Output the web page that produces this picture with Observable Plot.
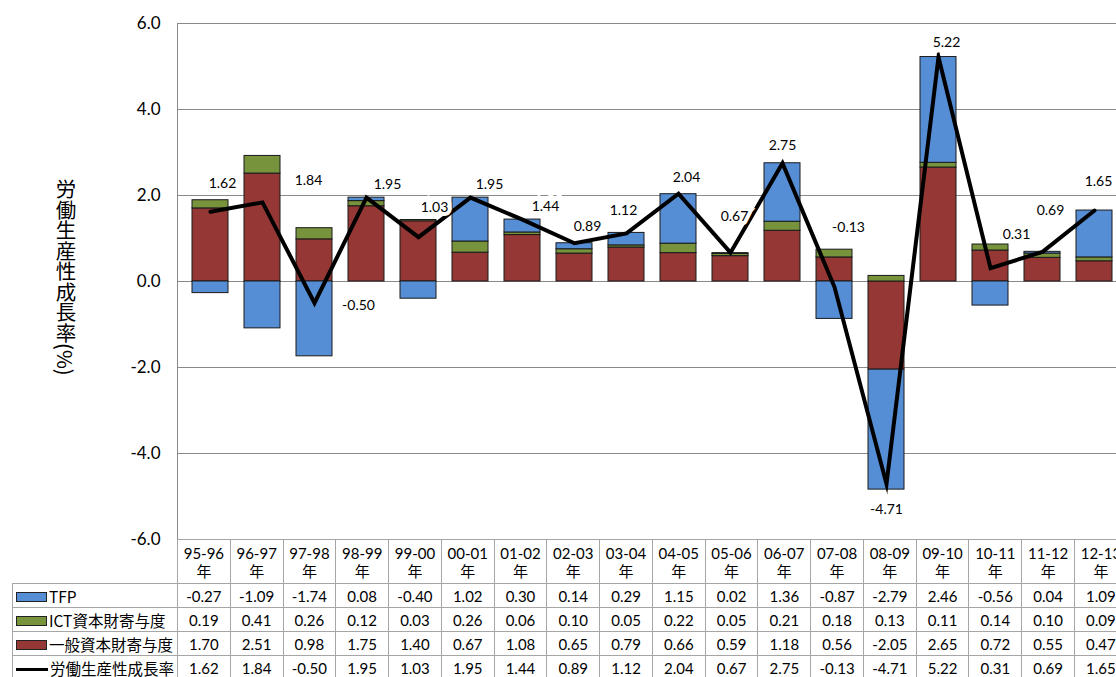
<!DOCTYPE html>
<html><head><meta charset="utf-8">
<script src="https://cdn.jsdelivr.net/npm/d3@7"></script>
<script src="https://cdn.jsdelivr.net/npm/@observablehq/plot@0.6"></script>
<style>
html,body{margin:0;padding:0;background:#fff;overflow:hidden;}
#wrap{position:relative;width:1116px;height:677px;overflow:hidden;font-family:Lato,"Noto Sans CJK JP",sans-serif;}
#chart{position:absolute;left:0;top:0;width:1127px;}
#chart svg{max-width:none !important;}
#ytitle{position:absolute;left:54px;top:179px;writing-mode:vertical-rl;font-family:"Noto Sans CJK JP",sans-serif;font-size:20.5px;line-height:24px;color:#000;}
#vline{position:absolute;left:177px;top:23px;height:560px;width:0;border-left:1px solid #8a8a8a;}
#tbl{position:absolute;left:12px;top:539px;border-collapse:collapse;table-layout:fixed;}
#tbl td{border:1px solid #a6a6a6;padding:0;text-align:center;font-size:15px;color:#000;white-space:nowrap;overflow:hidden;height:23px;line-height:18px;}
#tbl tr.head td{height:43px;}
#tbl td.empty{border:none;}
#tbl td.leg{text-align:left;font-family:"Noto Sans CJK JP",sans-serif;font-size:15.5px;padding-left:3px;}
.sw{display:inline-block;width:29px;height:8px;border:1px solid #222;margin-right:2px;vertical-align:middle;position:relative;top:-1px;}
.swl{display:inline-block;width:32px;height:3px;background:#000;margin-right:2px;vertical-align:middle;position:relative;top:-1px;}
</style></head>
<body>
<div id="wrap"><div id="chart"></div><div id="vline"></div><div id="ytitle">労働生産性成長率(%)</div></div>
<script>
const categories = ["95-96年","96-97年","97-98年","98-99年","99-00年","00-01年","01-02年","02-03年","03-04年","04-05年","05-06年","06-07年","07-08年","08-09年","09-10年","10-11年","11-12年","12-13年"];
const tfp     = [-0.27,-1.09,-1.74,0.08,-0.40,1.02,0.30,0.14,0.29,1.15,0.02,1.36,-0.87,-2.79,2.46,-0.56,0.04,1.09];
const ict     = [0.19,0.41,0.26,0.12,0.03,0.26,0.06,0.10,0.05,0.22,0.05,0.21,0.18,0.13,0.11,0.14,0.10,0.09];
const general = [1.70,2.51,0.98,1.75,1.40,0.67,1.08,0.65,0.79,0.66,0.59,1.18,0.56,-2.05,2.65,0.72,0.55,0.47];
const labor   = [1.62,1.84,-0.50,1.95,1.03,1.95,1.44,0.89,1.12,2.04,0.67,2.75,-0.13,-4.71,5.22,0.31,0.69,1.65];
const yTicks = [-6,-4,-2,0,2,4,6];
const seriesNames  = ["TFP","ICT資本財寄与度","一般資本財寄与度","労働生産性成長率"];
const seriesColors = ["#558ED5","#77933C","#953735","#000000"];
// data-label offsets (px) relative to each line point
const labelDx = [12,46,44,21,16,19,23,13,-3,8,4,0,14,0,8,26,8,4];
const labelDy = [-28,-22,3,-13,-30,-13,-13,-17,-23,-16,-36,-18,-60,25,-15,-34,-41,-29];

const seriesValues = [tfp, ict, general, labor];
const barData = categories.flatMap((c, i) => [
  {cat: c, series: seriesNames[2], value: general[i]},
  {cat: c, series: seriesNames[1], value: ict[i]},
  {cat: c, series: seriesNames[0], value: tfp[i]}
]);
const lineData = categories.map((c, i) => ({cat: c, value: labor[i]}));

const W = 1127, ML = 177;
const labels = lineData.map((d, i) => Plot.text([d], {
  x: "cat", y: "value", text: e => e.value.toFixed(2),
  dx: labelDx[i], dy: labelDy[i], fontSize: 14, fill: "#000",
  stroke: "white", strokeWidth: 8, paintOrder: "stroke", strokeLinejoin: "miter"
}));

const chart = Plot.plot({
  width: W, height: 541, marginLeft: ML, marginRight: 0, marginTop: 23, marginBottom: 2,
  style: {fontFamily: "Lato, 'Noto Sans CJK JP', sans-serif", fontSize: "17px", background: "white", overflow: "visible", color: "#000", maxWidth: "none"},
  x: {domain: categories, paddingInner: 0.31, paddingOuter: 0.155, axis: null},
  y: {domain: [-6, 6], ticks: yTicks, tickFormat: d => d.toFixed(1), tickSize: 0, tickPadding: 17, label: null},
  color: {domain: seriesNames.slice(0, 3), range: seriesColors.slice(0, 3)},
  marks: [
    Plot.ruleY(yTicks, {stroke: "#8a8a8a", strokeWidth: 1}),
    Plot.barY(barData, Plot.stackY({x: "cat", y: "value", fill: "series", stroke: "#1a1a1a", strokeWidth: 1})),
    Plot.line(lineData, {x: "cat", y: "value", stroke: "#000", strokeWidth: 4, strokeLinejoin: "miter", strokeMiterlimit: 10}),
    ...labels
  ]
});
chart.style.maxWidth = "none";
document.getElementById("chart").appendChild(chart);

// data table under the chart, columns aligned with the band scale
const step = (W - ML) / categories.length;
const tbl = document.createElement("table");
tbl.id = "tbl";
const cg = document.createElement("colgroup");
const c0 = document.createElement("col"); c0.style.width = (ML - 12) + "px"; cg.appendChild(c0);
categories.forEach(() => { const c = document.createElement("col"); c.style.width = step + "px"; cg.appendChild(c); });
tbl.appendChild(cg);
tbl.style.width = (ML - 12 + step * categories.length) + "px";
const head = document.createElement("tr"); head.className = "head";
const e0 = document.createElement("td"); e0.className = "empty"; head.appendChild(e0);
categories.forEach(c => {
  const td = document.createElement("td");
  td.innerHTML = c.slice(0, -1) + "<br>" + c.slice(-1);
  head.appendChild(td);
});
tbl.appendChild(head);
seriesNames.forEach((name, s) => {
  const tr = document.createElement("tr");
  const lg = document.createElement("td"); lg.className = "leg";
  const sw = document.createElement("span");
  if (s < 3) { sw.className = "sw"; sw.style.background = seriesColors[s]; }
  else { sw.className = "swl"; }
  lg.appendChild(sw);
  lg.appendChild(document.createTextNode(name));
  tr.appendChild(lg);
  seriesValues[s].forEach(v => {
    const td = document.createElement("td");
    td.textContent = v.toFixed(2);
    tr.appendChild(td);
  });
  tbl.appendChild(tr);
});
document.getElementById("wrap").appendChild(tbl);
</script>
</body></html>
